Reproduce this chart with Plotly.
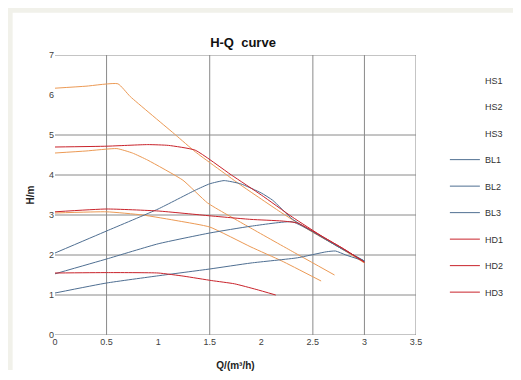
import plotly.graph_objects as go

# ---- data ----
HS1_q = [0, 0.3, 0.61, 0.73, 1.17, 1.36, 1.8, 2.2, 2.49, 2.75, 3.0]
HS1_h = [6.17, 6.22, 6.28, 5.96, 5.0, 4.58, 3.75, 3.05, 2.58, 2.2, 1.8]
HS2_q = [0, 0.3, 0.6, 0.75, 0.9, 1.24, 1.48, 1.88, 2.3, 2.71]
HS2_h = [4.55, 4.6, 4.66, 4.55, 4.37, 3.87, 3.3, 2.7, 2.09, 1.5]
HS3_q = [0, 0.5, 0.85, 1.2, 1.5, 1.9, 2.2, 2.58]
HS3_h = [3.05, 3.08, 3.0, 2.85, 2.7, 2.2, 1.85, 1.35]

BL1_q = [0, 0.5, 1.0, 1.36, 1.5, 1.64, 1.8, 2.0, 2.11, 2.3, 2.5, 2.75, 3.0]
BL1_h = [2.05, 2.6, 3.15, 3.62, 3.78, 3.86, 3.78, 3.55, 3.37, 2.9, 2.58, 2.2, 1.85]
BL2_q = [0, 0.5, 1.0, 1.5, 1.9, 2.3, 2.5, 2.75, 3.0]
BL2_h = [1.53, 1.9, 2.28, 2.55, 2.72, 2.83, 2.58, 2.2, 1.85]
BL3_q = [0, 0.5, 1.0, 1.5, 1.9, 2.35, 2.63, 2.72, 2.82, 3.0]
BL3_h = [1.05, 1.3, 1.48, 1.65, 1.8, 1.93, 2.08, 2.1, 2.0, 1.85]

HD1_q = [0, 0.5, 0.9, 1.1, 1.36, 1.71, 2.0, 2.3, 2.6, 2.8, 3.0]
HD1_h = [4.7, 4.72, 4.76, 4.74, 4.62, 4.0, 3.5, 2.95, 2.45, 2.15, 1.82]
HD2_q = [0, 0.5, 1.0, 1.5, 1.9, 2.2, 2.35, 2.6, 2.8, 3.0]
HD2_h = [3.08, 3.15, 3.1, 2.98, 2.89, 2.85, 2.8, 2.45, 2.15, 1.82]
HD3_q = [0, 0.5, 1.0, 1.25, 1.52, 1.74, 1.95, 2.14]
HD3_h = [1.55, 1.56, 1.55, 1.47, 1.36, 1.28, 1.14, 1.0]

x_ticks = [0, 0.5, 1, 1.5, 2, 2.5, 3, 3.5]
x_tick_text = ["0", "0.5", "1", "1.5", "2", "2.5", "3", "3.5"]
y_ticks = [0, 1, 2, 3, 4, 5, 6, 7]
x_grid = [0.5, 1.5, 2.5, 3, 3.5]
y_grid = [0, 1, 2, 3, 4, 5, 7]

ORANGE = "#ec9a55"
BLUE = "#4f6f92"
RED = "#c9232b"
FONT = "Liberation Sans"

series = [
    ("HS1", HS1_q, HS1_h, ORANGE),
    ("HS2", HS2_q, HS2_h, ORANGE),
    ("HS3", HS3_q, HS3_h, ORANGE),
    ("BL1", BL1_q, BL1_h, BLUE),
    ("BL2", BL2_q, BL2_h, BLUE),
    ("BL3", BL3_q, BL3_h, BLUE),
    ("HD1", HD1_q, HD1_h, RED),
    ("HD2", HD2_q, HD2_h, RED),
    ("HD3", HD3_q, HD3_h, RED),
]

fig = go.Figure()
for name, q, h, col in series:
    is_hs = name.startswith("HS")
    fig.add_trace(go.Scatter(
        x=q, y=h, mode="lines", name=name, legendgroup=name,
        line=dict(color=col, width=1, shape="spline", smoothing=0.45),
        showlegend=not is_hs, hoverinfo="skip"))
    if is_hs:
        # legend entry without a visible line (as in the reference)
        fig.add_trace(go.Scatter(
            x=[None], y=[None], mode="lines", name=name, legendgroup=name,
            line=dict(color="rgba(0,0,0,0)", width=1), showlegend=True))

# order legend as HS1..HD3
order = [s[0] for s in series]
fig.data = tuple(sorted(fig.data, key=lambda t: order.index(t.name)))

shapes = []
for gx in x_grid:
    shapes.append(dict(type="line", xref="x", yref="y", x0=gx, x1=gx, y0=0, y1=7,
                       line=dict(color="#8a8a8a", width=1), layer="below"))
for gy in y_grid:
    shapes.append(dict(type="line", xref="x", yref="y", x0=0, x1=3.5, y0=gy, y1=gy,
                       line=dict(color="#8a8a8a", width=1), layer="below"))
# light frame (left and top) of the original chart area
shapes.append(dict(type="path", xref="paper", yref="paper",
                   path="M -0.127,-0.125 L -0.127,1.163 L 1.3,1.163",
                   line=dict(color="#f1f1ea", width=7), layer="below"))

# page has an 8px body margin, so the figure is shrunk by 8px each way
fig.update_layout(
    width=513, height=372,
    margin=dict(l=47, r=93, t=47, b=45),
    paper_bgcolor="white", plot_bgcolor="white",
    font=dict(family=FONT, size=9, color="#404040"),
    title=dict(text="<b>H-Q\u00a0 curve</b>", x=(235 / 513), xanchor="center",
               y=1 - 34 / 372, yanchor="middle",
               font=dict(family=FONT, size=13, color="#111111")),
    xaxis=dict(range=[0, 3.5], tickvals=x_ticks, ticktext=x_tick_text,
               showgrid=False, zeroline=False, showline=False, ticks="",
               tickfont=dict(size=9, color="#404040"), fixedrange=True,
               title=dict(text="<b>Q/(m³/h)</b>", standoff=15,
                          font=dict(size=10, color="#222222"))),
    yaxis=dict(range=[0, 7], tickvals=y_ticks,
               showgrid=False, zeroline=False, showline=False, ticks="",
               tickfont=dict(size=9, color="#404040"), fixedrange=True,
               title=dict(text="<b>H/m</b>", standoff=12,
                          font=dict(size=10, color="#222222"))),
    legend=dict(x=1.08, xanchor="left", y=0.962, yanchor="top",
                font=dict(size=9, color="#333333"), tracegroupgap=7.5,
                itemwidth=30, bgcolor="rgba(0,0,0,0)"),
    shapes=shapes,
    showlegend=True,
)

fig.write_html("out.html")
